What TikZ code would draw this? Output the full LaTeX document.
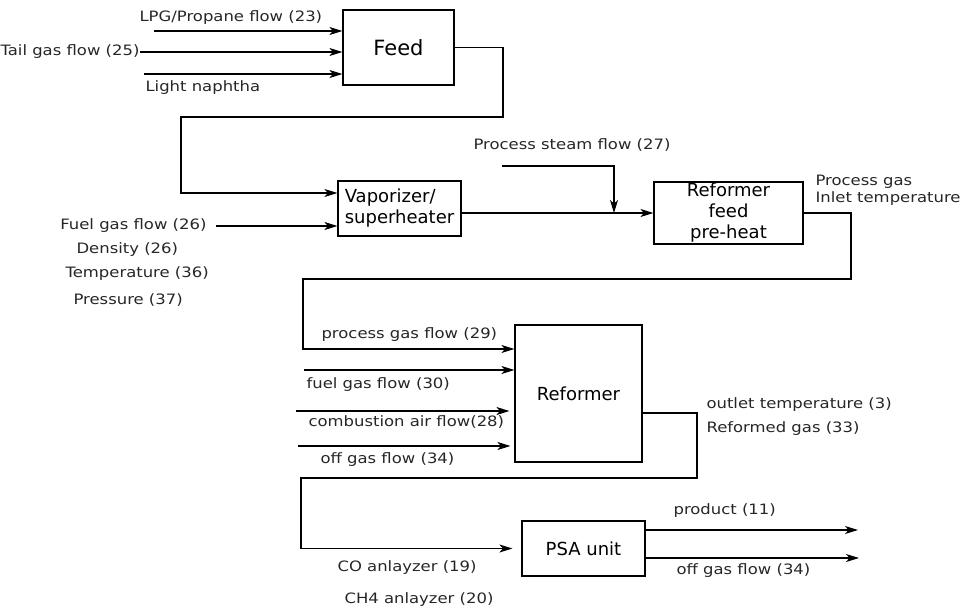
\documentclass[tikz,border=0pt]{standalone}
\usepackage{fontspec}
\setmainfont{DejaVu Sans}
\newfontfamily\labfont[FakeStretch=1.15]{DejaVu Sans}
\usetikzlibrary{arrows.meta}
\begin{document}
\begin{tikzpicture}[x=1pt,y=-1pt,
  line width=1.1pt,
  arr/.style={-{Stealth[length=13pt,width=8pt,inset=3.5pt]}},
  lab/.style={inner sep=0pt,anchor=west,font=\labfont\fontsize{14.3}{17}\selectfont,text=black!85},
  unit/.style={draw,inner sep=0pt,line width=1.2pt,font=\fontsize{18}{21}\selectfont,align=center}]
\useasboundingbox (0,0) rectangle (969,610);
% units
\node[unit,minimum width=111pt,minimum height=75pt,font=\fontsize{21}{24}\selectfont] (feed) at (398.5,47.5) {Feed};
\node[unit,minimum width=123pt,minimum height=55pt,align=left] (vap) at (399.5,208.5) {Vaporizer/\\superheater};
\node[unit,minimum width=149pt,minimum height=62pt] (rfp) at (728.5,213) {Reformer\\feed\\pre-heat};
\node[unit,minimum width=127pt,minimum height=137pt] (ref) at (578.5,393.5) {Reformer};
\node[unit,minimum width=123pt,minimum height=55pt] (psa) at (583.5,548.5) {PSA unit};
% feed inputs
\node[lab] (lpg) at (139,18) {LPG/Propane flow (23)};
\coordinate (lpgS) at (154,31);
\draw[arr] (lpgS) -- (lpgS -| feed.west);
\node[lab,anchor=east] (tail) at (140,52) {Tail gas flow (25)};
\draw[arr] (tail.east) -- (tail.east -| feed.west);
\coordinate (lnS) at (144,74);
\draw[arr] (lnS) -- (lnS -| feed.west);
\node[lab] (ln) at (145,88) {Light naphtha};
% feed to vaporizer
\coordinate (f1) at (503,117);
\coordinate (f2) at (181,117);
\coordinate (f3) at (181,193);
\draw[arr] (feed.east) -| (f1) -- (f2) -- (f3) -- (f3 -| vap.west);
% fuel gas
\node[lab,anchor=east] (fuel) at (207,226) {Fuel gas flow (26)};
\coordinate (fuelS) at (216,226);
\draw[arr] (fuelS) -- (fuelS -| vap.west);
\node[lab] (dens) at (76,250) {Density (26)};
\node[lab] (temp) at (65,274) {Temperature (36)};
\node[lab] (pres) at (73,300) {Pressure (37)};
% vaporizer to preheat, steam
\draw[arr] (vap.east |- rfp.west) -- (rfp.west);
\node[lab] (steam) at (473,145) {Process steam flow (27)};
\coordinate (st0) at (502,166);
\coordinate (stj) at (614,213);
\draw[arr] (st0) -| (stj);
\node[lab,align=left] (pgin) at (815,190) {Process gas\\Inlet temperature};
% preheat to reformer
\coordinate (p1) at (851,279);
\coordinate (p2) at (303,279);
\coordinate (p3) at (303,349);
\draw[arr] (rfp.east) -| (p1) -- (p2) -- (p3) -- (p3 -| ref.west);
\node[lab] (pgf) at (321,335) {process gas flow (29)};
\coordinate (fgS) at (304,370);
\draw[arr] (fgS) -- (fgS -| ref.west);
\node[lab] (fgf) at (306,385) {fuel gas flow (30)};
\coordinate (caS) at (296,411);
\draw[arr,shorten >=5pt] (caS) -- (caS -| ref.west);
\node[lab] (caf) at (308,422) {combustion air flow(28)};
\coordinate (ogS) at (298,446);
\draw[arr,shorten >=4pt] (ogS) -- (ogS -| ref.west);
\node[lab] (ogf) at (320,460) {off gas flow (34)};
% reformer to PSA
\coordinate (r0) at (642,413);
\coordinate (r1) at (697,478);
\coordinate (r2) at (301,478);
\coordinate (r3) at (301,548.5);
\draw[arr,shorten >=9pt] (r0 -| ref.east) -| (r1) -- (r2) -- (r3) -- (psa.west);
\node[lab] (outt) at (706,405) {outlet temperature (3)};
\node[lab] (rgas) at (706,429) {Reformed gas (33)};
\node[lab] (co) at (337,568) {CO anlayzer (19)};
\node[lab] (ch4) at (344,600) {CH4 anlayzer (20)};
% PSA outputs
\coordinate (prE) at (858,530);
\draw[arr] (prE -| psa.east) -- (prE);
\node[lab] (prod) at (673,511) {product (11)};
\coordinate (ogE) at (859,558);
\draw[arr] (ogE -| psa.east) -- (ogE);
\node[lab] (ogo) at (676,571) {off gas flow (34)};
\end{tikzpicture}
\end{document}
